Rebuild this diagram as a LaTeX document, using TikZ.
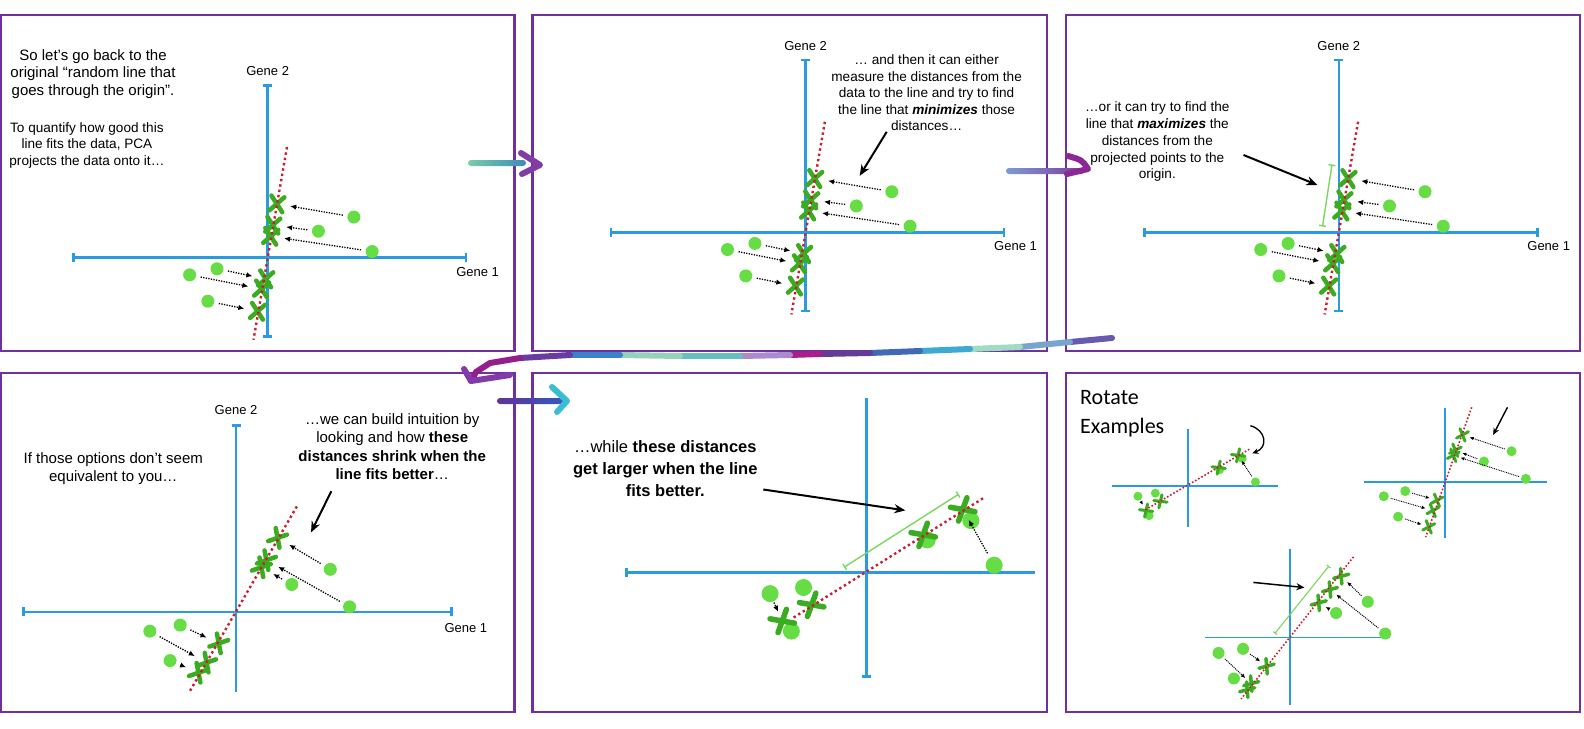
\documentclass[tikz,border=0pt]{standalone}
\usepackage{fontspec}
\setmainfont{Liberation Sans}
\newfontfamily\calibrifont{Carlito}
\usetikzlibrary{arrows.meta,shapes.misc}
\definecolor{panelpurple}{RGB}{112,48,160}
\definecolor{axisblue}{RGB}{41,155,222}
\definecolor{fitred}{RGB}{200,30,50}
\definecolor{ptgreen}{RGB}{102,221,68}
\definecolor{xgreen}{RGB}{58,172,32}
\definecolor{brgreen}{RGB}{125,215,95}
\tikzset{
 panel/.style={draw=panelpurple, line width=2.2pt},
 axis/.style={draw=axisblue, line width=2.6pt},
 thinaxis/.style={draw=axisblue, line width=1.7pt},
 fitline/.style={draw=fitred, line width=2.4pt, dash pattern=on 2.4pt off 3pt},
 thinfit/.style={draw=fitred, line width=1.6pt, dash pattern=on 1.6pt off 2pt},
 dpt/.style={circle, fill=ptgreen, inner sep=0pt, minimum size=13pt},
 xm/.style={cross out, draw=xgreen, line width=4.5pt, line cap=round, inner sep=0pt, outer sep=0pt, minimum width=13pt, minimum height=15pt},
 darr/.style={draw=black, line width=1.3pt, dash pattern=on 1.3pt off 1.3pt, shorten <=4.5pt, shorten >=7pt, -{Latex[length=6pt,width=5.5pt]}},
 barr/.style={draw=black, line width=2pt, -{Stealth[length=11pt,width=9pt]}},
 bracket/.style={draw=brgreen, line width=1.4pt, {Bar[width=7pt]}-{Bar[width=7pt]}},
 txt/.style={align=center, inner sep=0pt},
 gene/.style={inner sep=0pt, font=\fontsize{13}{15}\selectfont},
 glit/.style={line width=6pt, line cap=round, line join=round},
 bothcap/.style={{Bar[width=9pt]}-{Bar[width=9pt]}},
}
\newcommand\pcabase{%
 \coordinate (vt) at (0,-171); \coordinate (vb) at (0,79);
 \coordinate (hl) at (-193,0); \coordinate (hr) at (197,0);
 \coordinate (lt) at (19,-109); \coordinate (lb) at (-14,81);
 \draw[axis,bothcap] (vt) -- (vb);
 \draw[axis,bothcap] (hl) -- (hr);
 \node[gene] (g2) at (0,-184) {Gene 2};
 \node[gene] (g1) at (207,14) {Gene 1};
 \node[dpt] (d1) at (85,-40) {};
 \node[dpt] (d2) at (50,-26) {};
 \node[dpt] (d3) at (103,-6) {};
 \node[dpt] (d4) at (-50,11) {};
 \node[dpt] (d5) at (-77,17) {};
 \node[dpt] (d6) at (-59,43) {};
 \node[xm,rotate=-8] (x1) at (9,-53) {};
 \node[xm,rotate=-8] (x2) at (5,-32) {};
 \node[xm,rotate=-8] (x3) at (3,-21) {};
 \node[xm,rotate=-8] (x4) at (-2,21) {};
 \node[xm,rotate=-8] (x5) at (-6,31) {};
 \node[xm,rotate=-8] (x6) at (-10,53) {};
 \draw[fitline] (lt) -- (lb);
 \draw[darr] (d1) -- (x1);
 \draw[darr] (d2) -- (x2);
 \draw[darr] (d3) -- (x3);
 \draw[darr] (d4) -- (x4);
 \draw[darr] (d5) -- (x5);
 \draw[darr] (d6) -- (x6);
}
\begin{document}
\begin{tikzpicture}[x=1pt,y=-1pt]
\useasboundingbox[fill=white] (0,0) rectangle (1584,728);

% ---------- panel frames ----------
\draw[panel] (1.2,15) rectangle (514.5,351);
\draw[panel] (532.4,15) rectangle (1047,351);
\draw[panel] (1065.7,15) rectangle (1579.6,351);
\draw[panel] (1.2,372.8) rectangle (514.5,712);
\draw[panel] (532.4,372.8) rectangle (1047,712);
\draw[panel] (1065.7,372.8) rectangle (1579.6,712);

% ---------- panel 1 ----------
\begin{scope}[shift={(267.7,257.6)}, scale=1.014, name prefix=A-]
\pcabase
\end{scope}
\node[txt, font=\fontsize{15}{17.7}\selectfont] (t1a) at (93,74) {So let’s go back to the\\original “random line that\\goes through the origin”.};
\node[txt, font=\fontsize{13.6}{16.4}\selectfont] (t1b) at (86.9,145.4) {To quantify how good this\\line fits the data, PCA\\projects the data onto it…};

% ---------- panel 2 ----------
\begin{scope}[shift={(805.6,232.3)}, scale=1.014, name prefix=B-]
\pcabase
\end{scope}
\node[txt, font=\fontsize{13.6}{16.5}\selectfont] (t2) at (926.6,93) {… and then it can either\\measure the distances from the\\data to the line and try to find\\the line that \textbf{\textit{minimizes}} those\\distances…};
\coordinate (a2s) at (886.7,131.8);
\coordinate (a2e) at (859.7,175.8);
\draw[barr] (a2s) -- (a2e);

% ---------- panel 3 ----------
\begin{scope}[shift={(1338.8,232.3)}, scale=1.014, name prefix=C-]
\pcabase
\end{scope}
\node[txt, font=\fontsize{13.6}{16.9}\selectfont] (t3) at (1157.3,141.6) {…or it can try to find the\\line that \textbf{\textit{maximizes}} the\\distances from the\\projected points to the\\origin.};
\coordinate (a3s) at (1243.5,155);
\coordinate (a3e) at (1317.4,185);
\draw[barr] (a3s) -- (a3e);
\coordinate (b3t) at (1332,164.5);
\coordinate (b3b) at (1322.5,226.5);
\draw[bracket] (b3t) -- (b3b);

% ---------- panel 4 ----------
\begin{scope}[shift={(236,611.9)}, scale=1.014, name prefix=D-]
 \coordinate (vt) at (0,-185); \coordinate (vb) at (0,79);
 \coordinate (hl) at (-211,0); \coordinate (hr) at (214,0);
 \coordinate (lt) at (60,-104); \coordinate (lb) at (-46,79);
 \draw[axis,{Bar[width=9pt]}-] (vt) -- (vb);
 \draw[axis,bothcap] (hl) -- (hr);
 \node[gene] (g2) at (0,-199.4) {Gene 2};
 \node[gene] (g1) at (226.7,15.9) {Gene 1};
 \node[dpt] (d1) at (93,-42) {};
 \node[dpt] (d2) at (55,-27) {};
 \node[dpt] (d3) at (112,-5) {};
 \node[dpt] (d4) at (-55,13) {};
 \node[dpt] (d5) at (-85,19) {};
 \node[dpt] (d6) at (-65,48) {};
 \node[xm,rotate=-30] (x1) at (41,-73) {};
 \node[xm,rotate=-30] (x2) at (30,-51) {};
 \node[xm,rotate=-30] (x3) at (25,-44) {};
 \node[xm,rotate=-30] (x4) at (-17,31) {};
 \node[xm,rotate=-30] (x5) at (-29,50) {};
 \node[xm,rotate=-30] (x6) at (-37,60) {};
 \draw[fitline] (lt) -- (lb);
 \draw[darr] (d1) -- (x1);
 \draw[darr] (d3) -- (x2);
 \draw[darr] (d2) -- (x3);
 \draw[darr] (d4) -- (x4);
 \draw[darr] (d5) -- (x5);
 \draw[darr] (d6) -- (x6);
\end{scope}
\node[txt, font=\fontsize{15}{17.9}\selectfont] (t4a) at (113.3,468.8) {If those options don’t seem\\equivalent to you…};
\node[txt, font=\fontsize{15}{18.2}\selectfont] (t4b) at (392.2,446.6) {…we can build intuition by\\looking and how \textbf{these}\\\textbf{distances shrink when the}\\\textbf{line fits better}…};
\coordinate (a4s) at (331.3,491.2);
\coordinate (a4e) at (311,532.4);
\draw[barr] (a4s) -- (a4e);

% ---------- panel 5 ----------
\begin{scope}[shift={(866.4,572.3)}, scale=1.014, name prefix=E-]
 \coordinate (vt) at (0,-172); \coordinate (vb) at (0,104);
 \coordinate (hl) at (-238,0); \coordinate (hr) at (166,0);
 \coordinate (lt) at (115,-73); \coordinate (lb) at (-74,46);
 \coordinate (bt) at (91,-77); \coordinate (bb) at (-22,-5);
 \draw[axis,-{Bar[width=9pt]}] (vt) -- (vb);
 \draw[axis,{Bar[width=9pt]}-] (hl) -- (hr);
 \draw[bracket] (bb) -- (bt);
 \node[dpt,minimum size=17pt] (d1) at (126,-7) {};
 \node[dpt,minimum size=17pt] (d2) at (103,-51) {};
 \node[dpt,minimum size=17pt] (d3) at (60,-32) {};
 \node[dpt,minimum size=17pt] (d4) at (-62,15) {};
 \node[dpt,minimum size=17pt] (d5) at (-95,21) {};
 \node[dpt,minimum size=17pt] (d6) at (-74,58) {};
 \node[xm,rotate=-60,minimum width=16pt,minimum height=19pt,line width=5.5pt] (x1) at (95,-62) {};
 \node[xm,rotate=-60,minimum width=16pt,minimum height=19pt,line width=5.5pt] (x2) at (56,-37) {};
 \node[xm,rotate=-60,minimum width=16pt,minimum height=19pt,line width=5.5pt] (x3) at (-54,32) {};
 \node[xm,rotate=-60,minimum width=16pt,minimum height=19pt,line width=5.5pt] (x4) at (-83,48) {};
 \draw[fitline] (lt) -- (lb);
 \draw[darr,shorten <=5pt,shorten >=4pt] (d1) -- (x1);
 \draw[darr,shorten <=1pt,shorten >=2pt] (d5) -- (x4);
\end{scope}
\node[txt, font=\fontsize{16.5}{22}\selectfont] (t5) at (665.3,468.2) {…while \textbf{these distances}\\\textbf{get larger when the line}\\\textbf{fits better.}};
\coordinate (a5s) at (763.3,489.5);
\coordinate (a5e) at (905.3,510.4);
\draw[barr] (a5s) -- (a5e);

% ---------- panel 6 ----------
\node[anchor=west, align=left, inner sep=0pt, font=\calibrifont\fontsize{22}{29}\selectfont] (t6) at (1080,414) {Rotate\\Examples};

\begin{scope}[shift={(1188,486)}, scale=1.022, name prefix=FA-,
  darr/.append style={line width=0.9pt, dash pattern=on 0.9pt off 0.9pt, shorten <=2pt, shorten >=2pt, -{Latex[length=4pt,width=3.5pt]}}]
 \coordinate (vt) at (0,-56); \coordinate (vb) at (0,40);
 \coordinate (hl) at (-74,0); \coordinate (hr) at (88,0);
 \coordinate (lt) at (60,-36); \coordinate (lb) at (-43,24);
 \draw[thinaxis] (vt) -- (vb);
 \draw[thinaxis] (hl) -- (hr);
 \node[dpt,minimum size=9pt] (d1) at (66,-4) {};
 \node[dpt,minimum size=9pt] (d2) at (-49,10) {};
 \node[dpt,minimum size=9pt] (d3) at (-32,7) {};
 \node[dpt,minimum size=9pt] (d4) at (-38,29) {};
 \node[dpt,minimum size=9pt] (d5) at (31,-16) {};
 \node[dpt,minimum size=9pt] (d7) at (53,-27) {};
 \node[xm,rotate=-55,minimum width=9pt,minimum height=10pt,line width=3pt] (x1) at (49,-30) {};
 \node[xm,rotate=-55,minimum width=9pt,minimum height=10pt,line width=3pt] (x2) at (30,-18) {};
 \node[xm,rotate=-55,minimum width=9pt,minimum height=10pt,line width=3pt] (x3) at (-27,15) {};
 \node[xm,rotate=-55,minimum width=9pt,minimum height=10pt,line width=3pt] (x4) at (-41,24) {};
 \draw[thinfit] (lt) -- (lb);
 \draw[darr] (d1) -- (x1);
 \draw[darr] (d2) -- (x4);
 \coordinate (ca1) at (61,-59); \coordinate (ca2) at (63,-32);
 \draw[barr,line width=1.3pt,-{Stealth[length=6pt,width=5.5pt]}] (ca1) .. controls (76,-55) and (79,-38) .. (ca2);
\end{scope}

\begin{scope}[shift={(1445.1,481.9)}, scale=1.022, name prefix=FB-,
  darr/.append style={line width=0.9pt, dash pattern=on 0.9pt off 0.9pt, shorten <=2pt, shorten >=3pt, -{Latex[length=4pt,width=3.5pt]}}]
 \coordinate (vt) at (0,-72); \coordinate (vb) at (0,55);
 \coordinate (hl) at (-79,0); \coordinate (hr) at (100,0);
 \coordinate (lt) at (26,-73); \coordinate (lb) at (-19,54);
 \draw[thinaxis] (vt) -- (vb);
 \draw[thinaxis] (hl) -- (hr);
 \node[dpt,minimum size=10pt] (d1) at (65,-30) {};
 \node[dpt,minimum size=10pt] (d2) at (38,-20) {};
 \node[dpt,minimum size=10pt] (d3) at (79,-3) {};
 \node[dpt,minimum size=10pt] (d4) at (-39,9) {};
 \node[dpt,minimum size=10pt] (d5) at (-60,14) {};
 \node[dpt,minimum size=10pt] (d6) at (-46,34) {};
 \node[xm,rotate=-20,minimum width=9pt,minimum height=10pt,line width=3pt] (x1) at (17,-46) {};
 \node[xm,rotate=-20,minimum width=9pt,minimum height=10pt,line width=3pt] (x2) at (10,-31) {};
 \node[xm,rotate=-20,minimum width=9pt,minimum height=10pt,line width=3pt] (x3) at (8,-26) {};
 \node[xm,rotate=-20,minimum width=9pt,minimum height=10pt,line width=3pt] (x4) at (-8,18) {};
 \node[xm,rotate=-20,minimum width=9pt,minimum height=10pt,line width=3pt] (x5) at (-12,28) {};
 \node[xm,rotate=-20,minimum width=9pt,minimum height=10pt,line width=3pt] (x6) at (-16,44) {};
 \draw[thinfit] (lt) -- (lb);
 \draw[darr] (d1) -- (x1);
 \draw[darr] (d2) -- (x2);
 \draw[darr] (d3) -- (x3);
 \draw[darr] (d4) -- (x4);
 \draw[darr] (d5) -- (x5);
 \draw[darr] (d6) -- (x6);
 \coordinate (ka) at (61,-73); \coordinate (kb) at (47,-46);
 \draw[barr,line width=1.4pt,-{Stealth[length=7pt,width=6pt]}] (ka) -- (kb);
\end{scope}

\begin{scope}[shift={(1290.1,637.6)}, scale=1.022, name prefix=FC-,
  darr/.append style={line width=1pt, dash pattern=on 1pt off 1pt, shorten <=2.5pt, shorten >=3pt, -{Latex[length=4.5pt,width=4pt]}}]
 \coordinate (vt) at (0,-87); \coordinate (vb) at (0,66);
 \coordinate (hl) at (-83,0); \coordinate (hr) at (98,0);
 \coordinate (lt) at (62,-79); \coordinate (lb) at (-48,60);
 \coordinate (bt) at (38,-70); \coordinate (bb) at (-15,-4);
 \draw[thinaxis] (vt) -- (vb);
 \draw[thinaxis] (hl) -- (hr);
 \draw[bracket,line width=1.1pt,{Bar[width=5pt]}-{Bar[width=5pt]}] (bt) -- (bb);
 \node[dpt,minimum size=12pt] (d1) at (76,-35) {};
 \node[dpt,minimum size=12pt] (d2) at (45,-24) {};
 \node[dpt,minimum size=12pt] (d3) at (93,-4) {};
 \node[dpt,minimum size=12pt] (d4) at (-46,11) {};
 \node[dpt,minimum size=12pt] (d5) at (-70,15) {};
 \node[dpt,minimum size=12pt] (d6) at (-55,40) {};
 \node[xm,rotate=-35,minimum width=10pt,minimum height=12pt,line width=3.5pt] (x1) at (50,-60) {};
 \node[xm,rotate=-35,minimum width=10pt,minimum height=12pt,line width=3.5pt] (x2) at (39,-47) {};
 \node[xm,rotate=-35,minimum width=10pt,minimum height=12pt,line width=3.5pt] (x3) at (28,-34) {};
 \node[xm,rotate=-35,minimum width=10pt,minimum height=12pt,line width=3.5pt] (x4) at (-23,28) {};
 \node[xm,rotate=-35,minimum width=10pt,minimum height=12pt,line width=3.5pt] (x5) at (-38,45) {};
 \node[xm,rotate=-35,minimum width=10pt,minimum height=12pt,line width=3.5pt] (x6) at (-42,51) {};
 \draw[thinfit] (lt) -- (lb);
 \draw[darr] (d1) -- (x1);
 \draw[darr] (d3) -- (x2);
 \draw[darr] (d2) -- (x3);
 \draw[darr] (d4) -- (x4);
 \draw[darr] (d5) -- (x5);
 \coordinate (ka) at (-36,-54); \coordinate (kb) at (14,-49);
 \draw[barr,line width=1.5pt,-{Stealth[length=8pt,width=7pt]}] (ka) -- (kb);
\end{scope}

% ---------- glitter arrows ----------
\coordinate (G1u) at (521,153); \coordinate (G1t) at (540,165); \coordinate (G1d) at (522,174);
\shade[left color={rgb,255:red,120;green,205;blue,170}, right color={rgb,255:red,60;green,140;blue,185}, rounded corners=3pt] (468,160) rectangle (526,166);
\draw[glit, draw={rgb,255:red,130;green,60;blue,165}] (G1u) -- (G1t) -- (G1d);
\coordinate (G2u) at (1068,156); \coordinate (G2t) at (1088,169); \coordinate (G2d) at (1067,174);
\shade[left color={rgb,255:red,125;green,155;blue,205}, right color={rgb,255:red,125;green,60;blue,165}, rounded corners=3pt] (1006,168) rectangle (1084,174);
\draw[glit, draw={rgb,255:red,140;green,40;blue,150}] (G2u) .. controls (1082,160) .. (G2t) -- (G2d);
\coordinate (L1) at (1112,338); \coordinate (L2) at (1070,342); \coordinate (L3) at (1020,347);
\coordinate (L4) at (970,349); \coordinate (L5) at (920,351); \coordinate (L6) at (870,353);
\coordinate (L7) at (820,354); \coordinate (L8) at (790,355); \coordinate (L9) at (740,356);
\coordinate (L10) at (680,356); \coordinate (L11) at (620,355); \coordinate (L12) at (570,355);
\coordinate (L13) at (520,358); \coordinate (L14) at (490,363); \coordinate (L15) at (476,372);
\coordinate (L16) at (471,381); \coordinate (L17) at (464,369); \coordinate (L18) at (510,375);
\draw[glit, draw={rgb,255:red,105;green,90;blue,175}] (L1) -- (L2);
\draw[glit, draw={rgb,255:red,120;green,165;blue,205}] (L2) -- (L3);
\draw[glit, draw={rgb,255:red,160;green,220;blue,195}] (L3) -- (L4);
\draw[glit, draw={rgb,255:red,60;green,170;blue,210}] (L4) -- (L5);
\draw[glit, draw={rgb,255:red,65;green,105;blue,180}] (L5) -- (L6);
\draw[glit, draw={rgb,255:red,100;green,60;blue,150}] (L6) -- (L7);
\draw[glit, draw={rgb,255:red,170;green,30;blue,140}] (L7) -- (L8);
\draw[glit, draw={rgb,255:red,170;green,140;blue,205}] (L8) -- (L9);
\draw[glit, draw={rgb,255:red,100;green,190;blue,195}] (L9) -- (L10);
\draw[glit, draw={rgb,255:red,150;green,210;blue,185}] (L10) -- (L11);
\draw[glit, draw={rgb,255:red,60;green,130;blue,200}] (L11) -- (L12);
\draw[glit, draw={rgb,255:red,105;green,60;blue,160}] (L12) -- (L13);
\draw[glit, draw={rgb,255:red,150;green,30;blue,140}] (L13) -- (L14) -- (L15) -- (L16);
\draw[glit, draw={rgb,255:red,130;green,60;blue,170}] (L17) -- (L16) -- (L18);
\coordinate (G4u) at (552,387); \coordinate (G4t) at (567,401); \coordinate (G4d) at (557,412);
\shade[left color={rgb,255:red,100;green,50;blue,150}, right color={rgb,255:red,50;green,90;blue,190}, rounded corners=3pt] (497,398) rectangle (565,404);
\draw[glit, draw={rgb,255:red,60;green,190;blue,210}] (G4u) -- (G4t) -- (G4d);
\end{tikzpicture}
\end{document}
